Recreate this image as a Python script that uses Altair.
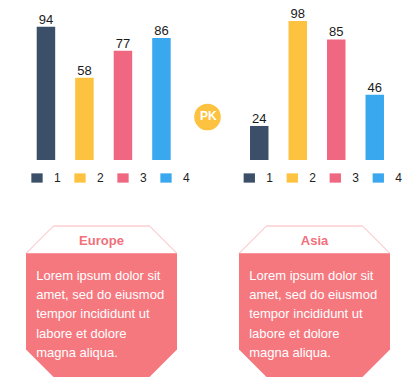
import altair as alt
import pandas as pd

# ---- data ----
categories = ["1", "2", "3", "4"]
europe_values = [94, 58, 77, 86]
asia_values = [24, 98, 85, 46]
bar_colors = ["#3B5068", "#FDC23F", "#EF6781", "#3AA8EE"]
regions = ["Europe", "Asia"]
body_text = "Lorem ipsum dolor sit\namet, sed do eiusmod\ntempor incididunt ut\nlabore et dolore\nmagna aliqua."
center_label = "PK"

FONT = "Liberation Sans"
LEG_SHAPE = "M-1,-0.82L1,-0.82L1,0.82L-1,0.82Z"
HEAD_SHAPE = "M-0.636,-1L0.636,-1L1,-0.636L-1,-0.636Z"
BODY_SHAPE = "M-1,-0.636L1,-0.636L1,0.636L0.636,1L-0.636,1L-1,0.636Z"


def bar_panel(values, x_range, legend_x):
    df = pd.DataFrame({"cat": categories, "value": values})
    x = alt.X("cat:N", axis=None,
              scale=alt.Scale(type="band", range=x_range, paddingInner=0.52, paddingOuter=0.26))
    y = alt.Y("value:Q", axis=None,
              scale=alt.Scale(domain=[0, 100], range=[152, 10.2], nice=False, zero=True))
    bars = alt.Chart(df).mark_bar().encode(
        x=x, y=y,
        color=alt.Color("cat:N", scale=alt.Scale(domain=categories, range=bar_colors),
                        legend=alt.Legend(title=None, orient="none", direction="horizontal",
                                          legendX=legend_x, legendY=164,
                                          symbolType=LEG_SHAPE, symbolSize=128,
                                          symbolStrokeWidth=0, symbolOpacity=1,
                                          labelFont=FONT, labelFontSize=12, labelColor="#222222",
                                          labelOffset=11, columnPadding=13, padding=0)),
    )
    labels = alt.Chart(df).mark_text(font=FONT, fontSize=13, color="#1a1a1a",
                                     baseline="alphabetic", dy=-3).encode(
        x=x, y=y, text=alt.Text("value:Q"))
    return alt.layer(bars, labels)


left = bar_panel(europe_values, [18.7, 172.7], 23)
right = bar_panel(asia_values, [232, 386], 235.3)

pk_df = pd.DataFrame({"label": [center_label]})
pk_circle = alt.Chart(pk_df).mark_circle(size=707, color="#FDC23F", opacity=1).encode(
    x=alt.value(199.5), y=alt.value(109))
pk_text = alt.Chart(pk_df).mark_text(font=FONT, fontSize=12, fontWeight="bold", color="white",
                                     baseline="alphabetic").encode(
    x=alt.value(200.3), y=alt.value(112), text="label:N")

box_df = pd.DataFrame({"region": regions, "body": [body_text, body_text]})
bx = alt.X("region:N", axis=None,
           scale=alt.Scale(type="point", domain=regions, range=[93.5, 306.5], padding=0))
head = alt.Chart(box_df).mark_point(shape=HEAD_SHAPE, size=22801, filled=True, fill="white",
                                    stroke="#FBB4B9", strokeWidth=1, opacity=1).encode(
    x=bx, y=alt.value(293.5))
body = alt.Chart(box_df).mark_point(shape=BODY_SHAPE, size=22801, filled=True, fill="#F6787F",
                                    strokeWidth=0, opacity=1).encode(
    x=bx, y=alt.value(293.5))
title = alt.Chart(box_df).mark_text(font=FONT, fontSize=13, fontWeight="bold", color="#F2707B",
                                    baseline="alphabetic").encode(
    x=bx, y=alt.value(237), text="region:N")
body_txt = alt.Chart(box_df).mark_text(font=FONT, fontSize=13, color="white", align="left",
                                       baseline="alphabetic", dx=-65.3, lineBreak="\n",
                                       lineHeight=19.2).encode(
    x=bx, y=alt.value(272), text="body:N")
boxes = alt.layer(head, body, title, body_txt)

chart = alt.layer(left, right, pk_circle, pk_text, boxes).resolve_scale(
    x="independent", y="independent", color="independent"
).properties(
    width=404, height=374, padding=0, autosize=alt.AutoSizeParams(type="none")
).configure_view(stroke=None)

chart.save("out.html", embed_options={"renderer": "svg", "actions": False})
